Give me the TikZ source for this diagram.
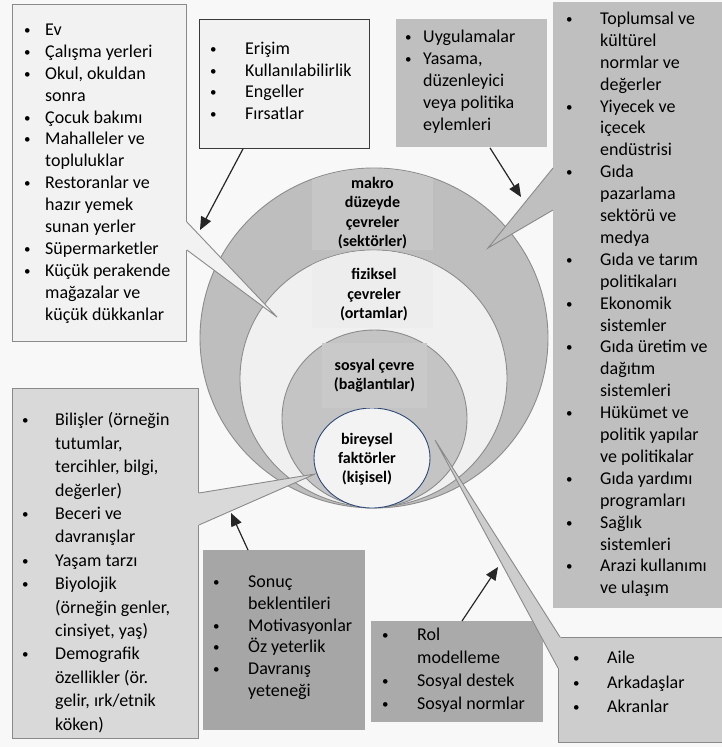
\documentclass[tikz,border=0pt]{standalone}
\usepackage{fontspec}
\setmainfont{Carlito}
\usetikzlibrary{shapes.geometric, arrows.meta, positioning, calc}
\definecolor{pageBg}{HTML}{F8F8F8}
\definecolor{ringMacro}{HTML}{BEBEBE}
\definecolor{ringPhys}{HTML}{F0F0F0}
\definecolor{ringSoc}{HTML}{C4C4C4}
\definecolor{ringInd}{HTML}{F3F3F3}
\definecolor{ringLine}{HTML}{8C8C8C}
\definecolor{indLine}{HTML}{2F4A78}
\definecolor{lblMacro}{HTML}{C6C6C6}
\definecolor{lblPhys}{HTML}{EDEDED}
\definecolor{lblSoc}{HTML}{C9C9C9}
\definecolor{boxLight}{HTML}{F2F2F2}
\definecolor{boxMid}{HTML}{BFBFBF}
\definecolor{boxPale}{HTML}{D9D9D9}
\definecolor{boxDark}{HTML}{A6A6A6}
\definecolor{boxRole}{HTML}{AAAAAA}
\definecolor{boxFam}{HTML}{CDCDCD}
\definecolor{edgeGray}{HTML}{8A8A8A}
\definecolor{edgeDark}{HTML}{3A3A3A}
\newcommand{\bl}[1][34pt]{\llap{\makebox[#1][l]{\raisebox{1pt}{\fontsize{13}{13}\selectfont •}}}}
\tikzset{
  ring/.style = {
    ellipse, draw=ringLine, line width=0.9pt, inner sep=0pt,
  },
  lvl/.style = {
    align=center, inner sep=0pt,
    font=\bfseries\fontsize{16}{19.5}\selectfont,
  },
  box/.style = {
    rectangle, anchor=north west, inner sep=0pt, line width=0.9pt,
  },
  lst/.style = {
    anchor=north west, align=left, inner sep=0pt,
    font=\fontsize{18}{#1}\selectfont, execute at begin node=\strut,
  },
  lst/.default = 21.9,
  ptr/.style = {draw=edgeGray, line width=0.9pt},
  arr/.style = {-{Triangle[length=13pt, width=11pt]}, line width=1.2pt, draw=black!85},
}
\begin{document}
\begin{tikzpicture}[x=1pt, y=-1pt]
\useasboundingbox[fill=pageBg] (0,0) rectangle (722,747);

% nested settings
\node[ring, fill=ringMacro, minimum width=348pt, minimum height=340pt] (cMacro) at (374,338) {};
\begin{scope}
  \clip (cMacro.center) ellipse [x radius=173.5, y radius=169.5];
  \fill[lblMacro] (312,160) rectangle (433,250);
\end{scope}
\node[ring, fill=ringPhys, minimum width=267pt, minimum height=257pt] (cPhys) at (373.5,378.5) {};
\begin{scope}
  \clip (cPhys.center) ellipse [x radius=133, y radius=128];
  \fill[lblPhys] (312,245) rectangle (433,328);
\end{scope}
\node[ring, fill=ringSoc, minimum width=185pt, minimum height=177pt] (cSoc) at (374.5,418.5) {};
\node[ring, draw=indLine, fill=ringInd, minimum width=116pt, minimum height=100pt] (cInd) at (372,458) {};

\node[lvl] (lMacro) at (372.5,213) {makro\\düzeyde\\çevreler\\(sektörler)};
\node[lvl] (lPhys) at (374,295) {fiziksel\\çevreler\\(ortamlar)};
\node[lvl, fill=lblSoc, minimum width=105pt, minimum height=65pt] (lSoc) at (374.5,375.5) {sosyal çevre\\(bağlantılar)};
\node[lvl, font=\bfseries\fontsize{16}{18.8}\selectfont] (lInd) at (367,459) {bireysel\\faktörler\\(kişisel)};

% physical settings
\node[box, fill=boxLight, draw=edgeGray, minimum width=174pt, minimum height=337pt] (phys) at (12,4) {};
\coordinate (tPhys) at (277,317);
\coordinate (p1a) at ($(phys.north east)+(0,218)$);
\coordinate (p1b) at ($(phys.north east)+(0,246)$);
\fill[boxLight] (p1a) -- (tPhys) -- (p1b) -- ++(-3,0) -- ($(p1a)+(-3,0)$) -- cycle;
\draw[ptr] (p1a) -- (tPhys) -- (p1b);
\node[lst=21.9] (physL) at (45,23.7) {\bl[21pt]Ev\\
  \bl[21pt]Çalışma yerleri\\
  \bl[21pt]Okul, okuldan\\
  sonra\\
  \bl[21pt]Çocuk bakımı\\
  \bl[21pt]Mahalleler ve\\
  topluluklar\\
  \bl[21pt]Restoranlar ve\\
  hazır yemek\\
  sunan yerler\\
  \bl[21pt]Süpermarketler\\
  \bl[21pt]Küçük perakende\\
  mağazalar ve\\
  küçük dükkanlar};

% access
\node[box, fill=boxLight, draw=edgeDark, minimum width=170pt, minimum height=129pt] (acc) at (199,19) {};
\node[lst=21.5] (accL) at (245,42) {\bl[35pt]Erişim\\
  \bl[35pt]Kullanılabilirlik\\
  \bl[35pt]Engeller\\
  \bl[35pt]Fırsatlar};

% policy
\node[box, fill=boxMid, minimum width=151pt, minimum height=128pt] (pol) at (396,19) {};
\node[lst=22] (polL) at (423,29.6) {\bl[18pt]Uygulamalar\\
  \bl[18pt]Yasama,\\
  düzenleyici\\
  veya politika\\
  eylemleri};

% macro-level sectors
\node[box, fill=boxMid, minimum width=169pt, minimum height=606pt] (sect) at (553,2) {};
\coordinate (tSect) at (488,248);
\coordinate (p4a) at ($(sect.north west)+(0,166)$);
\coordinate (p4b) at ($(sect.north west)+(0,208)$);
\fill[boxMid] (p4a) -- (tSect) -- (p4b) -- ++(3,0) -- ($(p4a)+(3,0)$) -- cycle;
\draw[ptr] (p4a) -- (tSect) -- (p4b);
\node[lst=21.9] (sectL) at (600,11.7) {\bl Toplumsal ve\\
  kültürel\\
  normlar ve\\
  değerler\\
  \bl Yiyecek ve\\
  içecek\\
  endüstrisi\\
  \bl Gıda\\
  pazarlama\\
  sektörü ve\\
  medya\\
  \bl Gıda ve tarım\\
  politikaları\\
  \bl Ekonomik\\
  sistemler\\
  \bl Gıda üretim ve\\
  dağıtım\\
  sistemleri\\
  \bl Hükümet ve\\
  politik yapılar\\
  ve politikalar\\
  \bl Gıda yardımı\\
  programları\\
  \bl Sağlık\\
  sistemleri\\
  \bl Arazi kullanımı\\
  ve ulaşım};

% individual factors
\node[box, fill=boxPale, draw=edgeGray, minimum width=186pt, minimum height=350pt] (indiv) at (12,388) {};
\coordinate (tIndiv) at (315,474);
\coordinate (p5a) at ($(indiv.north east)+(0,105)$);
\coordinate (p5b) at ($(indiv.north east)+(0,137)$);
\fill[boxPale] (p5a) -- (tIndiv) -- (p5b) -- ++(-3,0) -- ($(p5a)+(-3,0)$) -- cycle;
\draw[ptr] (p5a) -- (tIndiv) -- (p5b);
\node[lst=23.4] (indivL) at (55,412.6) {\bl[33pt]Bilişler (örneğin\\
  tutumlar,\\
  tercihler, bilgi,\\
  değerler)\\
  \bl[33pt]Beceri ve\\
  davranışlar\\
  \bl[33pt]Yaşam tarzı\\
  \bl[33pt]Biyolojik\\
  (örneğin genler,\\
  cinsiyet, yaş)\\
  \bl[33pt]Demografik\\
  özellikler (ör.\\
  gelir, ırk/etnik\\
  köken)};

% behaviour
\node[box, fill=boxDark, minimum width=162pt, minimum height=180pt] (beh) at (203,550) {};
\node[lst=21.7] (behL) at (248,575.8) {\bl[35pt]Sonuç\\
  beklentileri\\
  \bl[35pt]Motivasyonlar\\
  \bl[35pt]Öz yeterlik\\
  \bl[35pt]Davranış\\
  yeteneği};

% social processes
\node[box, fill=boxRole, minimum width=172pt, minimum height=101pt] (soc) at (371,621) {};
\node[lst=23] (socL) at (417,628) {\bl[35pt]Rol\\
  modelleme\\
  \bl[35pt]Sosyal destek\\
  \bl[35pt]Sosyal normlar};

% family and peers
\node[box, fill=boxFam, draw=edgeGray, minimum width=164pt, minimum height=105pt] (fam) at (558,637) {};
\coordinate (tFam) at (435,440);
\coordinate (p8a) at ($(fam.north west)+(2,0)$);
\coordinate (p8b) at ($(fam.north west)+(0,31)$);
\fill[boxFam] (p8a) -- (tFam) -- (p8b) -- ++(3,0) -- ($(p8a)+(3,3)$) -- cycle;
\draw[ptr] (p8a) -- (tFam) -- (p8b);
\node[lst=24.5] (famL) at (607,651) {\bl Aile\\
  \bl Arkadaşlar\\
  \bl Akranlar};

% arrows
\coordinate (aPhys) at (200,230);
\coordinate (aSect) at (521,197);
\coordinate (aInd) at (231,513);
\coordinate (aSoc) at (498,567);
\draw[arr] ($(acc.south west)+(44,0)$) -- (aPhys);
\draw[arr] ($(pol.south west)+(94,0)$) -- (aSect);
\draw[arr] ($(beh.north west)+(45,0)$) -- (aInd);
\draw[arr] ($(soc.north west)+(91,0)$) -- (aSoc);

\end{tikzpicture}
\end{document}
